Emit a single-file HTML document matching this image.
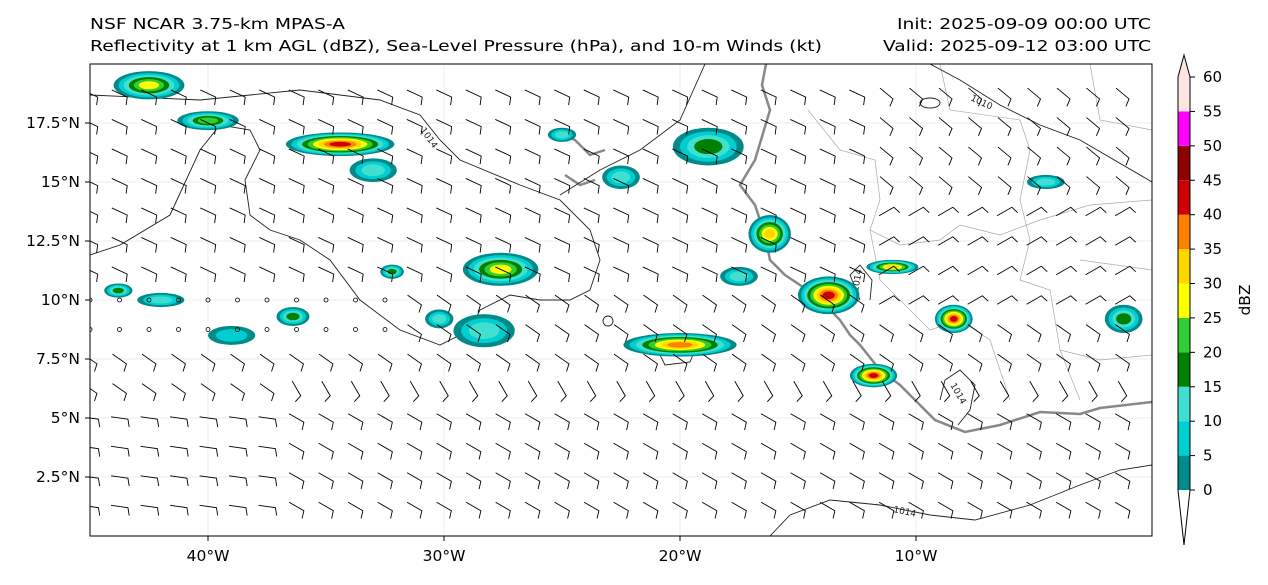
<!DOCTYPE html>
<html><head><meta charset="utf-8"><style>
body{margin:0;background:#fff;width:1268px;height:580px;overflow:hidden;font-family:"Liberation Sans","DejaVu Sans",sans-serif}
svg text{font-family:"DejaVu Sans","Liberation Sans",sans-serif}
</style></head><body>
<svg id="c" width="1268" height="580" viewBox="0 0 1268 580" xmlns="http://www.w3.org/2000/svg">
<text x="90" y="29" font-size="15.5" textLength="255" lengthAdjust="spacingAndGlyphs">NSF NCAR 3.75-km MPAS-A</text>
<text x="90" y="51" font-size="15.5" textLength="732" lengthAdjust="spacingAndGlyphs">Reflectivity at 1 km AGL (dBZ), Sea-Level Pressure (hPa), and 10-m Winds (kt)</text>
<text x="897" y="29" font-size="15.5" textLength="254" lengthAdjust="spacingAndGlyphs">Init: 2025-09-09 00:00 UTC</text>
<text x="883" y="51" font-size="15.5" textLength="268" lengthAdjust="spacingAndGlyphs">Valid: 2025-09-12 03:00 UTC</text>
<defs><clipPath id="clip"><rect x="90" y="64" width="1062" height="472"/></clipPath></defs>
<g id="grid"></g>
<g clip-path="url(#clip)">
<g fill="none" stroke="#aaa" stroke-width="0.7">
<path d="M808,110 L840,150 L875,160 L880,200 L870,230 L900,245 L940,240 L960,225 L1000,235 L1040,220 L1090,205 L1152,200"/>
<path d="M940,64 L950,110 L1020,120 L1030,150 L1020,200 L1030,240 L1020,280 L1050,290 L1060,350 L1080,400"/>
<path d="M870,230 L880,280 L900,300 L930,330 L960,320 L990,340 L1010,400"/>
<path d="M1090,64 L1100,120 L1152,130"/>
<path d="M1060,350 L1100,360 L1152,355"/>
<path d="M1080,260 L1152,270"/>
</g>
<path fill="none" stroke="#888" stroke-width="2.5" d="M766,64 L762,85 L770,110 L755,160 L740,185 L755,205 L765,235 L770,260 L785,275 L800,285 L820,300 L840,320 L850,335 L860,345 L880,370 L900,385 L915,400 L935,420 L965,432 L1000,425 L1040,412 L1080,414 L1100,408 L1152,402"/>
<path fill="none" stroke="#888" stroke-width="2.5" d="M555,130 L575,140 L590,155 L605,150 M565,175 L580,185 L595,180"/>
<g fill="none" stroke="#222" stroke-width="0.9">
<path d="M90,95 L200,100 L300,90 L380,100 L420,115 L440,140 L460,160 L520,185 L560,200 L590,230 L600,260 L590,290 L570,300 L540,300 L510,295 L480,310 L470,330 L440,345 L400,330 L360,300 L330,260 L300,240 L270,230 L250,215 L245,180 L260,150 L250,130 L220,125 L200,150 L170,215 L120,245 L90,255"/>
<path d="M560,195 L600,170 L640,150 L680,120 L705,64"/>
<path d="M930,64 L960,80 L1000,105 L1040,125 L1080,140 L1152,182"/>
<path d="M770,536 L790,515 L830,500 L880,505 L930,515 L975,520 L1030,505 L1080,485 L1120,470 L1152,465"/>
<path d="M860,300 L850,275 L860,265 L872,280 L870,300"/>
<path d="M940,400 L945,380 L960,370 L975,385 L970,410 L958,425"/>
<path d="M655,345 L670,340 L695,350 L690,362 L665,365 Z"/>
<ellipse cx="930" cy="103" rx="10" ry="5"/>
<circle cx="608" cy="321" r="5"/>
</g>
<g font-size="9" fill="#222">
<text x="420" y="130" transform="rotate(55 420 130)">1014</text>
<text x="970" y="100" transform="rotate(25 970 100)">1010</text>
<text x="893" y="512" transform="rotate(12 893 512)">1014</text>
<text x="858" y="292" transform="rotate(-80 858 292)">1014</text>
<text x="950" y="385" transform="rotate(60 950 385)">1014</text>
</g>
<g id="refl"></g>
<g id="barbs" stroke="#000" stroke-width="0.9" fill="none"></g>
</g>
<rect x="90" y="64" width="1062" height="472" fill="none" stroke="#000" stroke-width="1"/>
<g id="axes" font-size="15.5"></g>
<g id="cbar"></g>
<text x="1250" y="300" font-size="15.5" text-anchor="middle" transform="rotate(-90 1250 300)">dBZ</text>
</svg>
<script>
const xTicks=[-40,-30,-20,-10];
const xLabels=["40°W","30°W","20°W","10°W"];
const yTicks=[2.5,5,7.5,10,12.5,15,17.5];
const yLabels=["2.5°N","5°N","7.5°N","10°N","12.5°N","15°N","17.5°N"];
const cLevels=[0,5,10,15,20,25,30,35,40,45,50,55,60];
const cColors=["#008b8b","#00ced1","#40e0d0","#008000","#32cd32","#ffff00","#ffd700","#ff7f00","#cc0000","#8b0000","#ff00ff","#ffe4e1"];
// storm clusters: lon, lat, half-width (deg), half-height (deg), peak dBZ
const stormLon=[-34.4,-42.5,-40.0,-27.6,-28.3,-20.0,-16.2,-13.7,-11.8,-8.4,-11.0,-4.5,-1.2,-22.5,-18.8,-36.4,-32.2,-43.8,-42.0,-17.5,-25.0,-30.2,-39,-33];
const stormLat=[16.6,19.1,17.6,11.3,8.7,8.1,12.8,10.2,6.8,9.2,11.4,15.0,9.2,15.2,16.5,9.3,11.2,10.4,10.0,11.0,17.0,9.2,8.5,15.5];
const stormW=[2.3,1.5,1.3,1.6,1.3,2.4,0.9,1.3,1.0,0.8,1.1,0.8,0.8,0.8,1.5,0.7,0.5,0.6,1.0,0.8,0.6,0.6,1,1];
const stormH=[0.5,0.6,0.4,0.7,0.7,0.5,0.8,0.8,0.5,0.6,0.3,0.3,0.6,0.5,0.8,0.4,0.3,0.3,0.3,0.4,0.3,0.4,0.4,0.5];
const stormPeak=[45,30,25,30,15,40,35,45,45,45,35,15,20,15,20,20,20,20,15,15,15,15,10,15];

const NS="http://www.w3.org/2000/svg";
const X=lon=>90+(lon+45)*23.6;
const Y=lat=>536-lat*23.6;
function el(t,a,p){const e=document.createElementNS(NS,t);for(const k in a)e.setAttribute(k,a[k]);p.appendChild(e);return e;}
const axes=document.getElementById('axes'),grid=document.getElementById('grid');
xTicks.forEach((v,i)=>{
 const g=el('line',{x1:X(v),x2:X(v),y1:64,y2:536,stroke:'#eee','stroke-width':1},grid);
 
 
 const t=el('line',{x1:X(v),x2:X(v),y1:536,y2:541,stroke:'#000'},axes);
 
 
 const l=el('text',{x:X(v),y:561,'text-anchor':'middle'},axes);l.textContent=xLabels[i];
 
 
});
yTicks.forEach((v,i)=>{
 const g=el('line',{x1:90,x2:1152,y1:Y(v),y2:Y(v),stroke:'#eee','stroke-width':1},grid);
 
 
 const t=el('line',{x1:85,x2:90,y1:Y(v),y2:Y(v),stroke:'#000'},axes);
 
 
 const l=el('text',{x:80,y:Y(v)+5,'text-anchor':'end'},axes);l.textContent=yLabels[i];
 
 
});
// colorbar
const cb=document.getElementById('cbar');
const CY=v=>490-v*6.883;
cColors.forEach((c,i)=>{
 const r=el('rect',{x:1178,y:CY(cLevels[i+1]),width:12,height:CY(cLevels[i])-CY(cLevels[i+1]),fill:c},cb);
 
 
});
const up=el('path',{d:`M1178,${CY(60)} L1184,55 L1190,${CY(60)} Z`,fill:'#ffe4e1',stroke:'none'},cb);


const lo=el('path',{d:`M1178,490 L1184,545 L1190,490 Z`,fill:'#fff',stroke:'none'},cb);


el('path',{d:`M1178,${CY(60)} L1184,55 L1190,${CY(60)} L1190,490 L1184,545 L1178,490 Z`,fill:'none',stroke:'#000','stroke-width':1},cb);
cLevels.forEach(v=>{
 el('line',{x1:1190,x2:1195,y1:CY(v),y2:CY(v),stroke:'#000'},cb);
 const l=el('text',{x:1203,y:CY(v)+5,'font-size':15},cb);l.textContent=v;
 
 
});
// reflectivity clusters as nested ellipses per level
const rg=document.getElementById('refl');
stormLon.forEach((lon,i)=>{
 const peak=stormPeak[i];
 const g=el('g',{},rg);
 
 
 for(let k=0;k<cColors.length&&cLevels[k]<peak;k++){
  const f=1-(cLevels[k])/(peak+5);
  el('ellipse',{cx:X(lon),cy:Y(stormLat[i]),rx:stormW[i]*23.6*f,ry:stormH[i]*23.6*f,fill:cColors[k]},g);
 }
});
// wind barbs on a 1.25° grid
const bg=document.getElementById('barbs');
for(let lat=1.25;lat<20;lat+=1.25){
 for(let lon=-45;lon<0;lon+=1.25){
  const x=X(lon),y=Y(lat);
  if(lat>=8.5&&lat<=10.5&&lon<-32){
   const c=el('circle',{cx:x,cy:y,r:2,'stroke-width':0.8},bg);
   
   
   continue;
  }
  let ang;
  if(lat>10) ang=-25;
  else if(lat>7) ang=-35;
  else if(lat>5.5) ang=lon<-37?-35:-60;
  else ang=lon<-37?-8:-30;
  if(lon>-12&&lat>9) ang=lat>14?-40:30;
  const a=ang*Math.PI/180,L=17;
  const x0=x-Math.cos(a)*L/2,y0=y+Math.sin(a)*L/2;
  const x2=x+Math.cos(a)*L/2,y2=y-Math.sin(a)*L/2;
  const fa=a-Math.PI/2+0.3;
  const b=el('path',{d:`M${x0},${y0} L${x2},${y2} L${x2+Math.cos(fa)*8},${y2-Math.sin(fa)*8}`},bg);
  
  
 }
}
</script>
</body></html>
